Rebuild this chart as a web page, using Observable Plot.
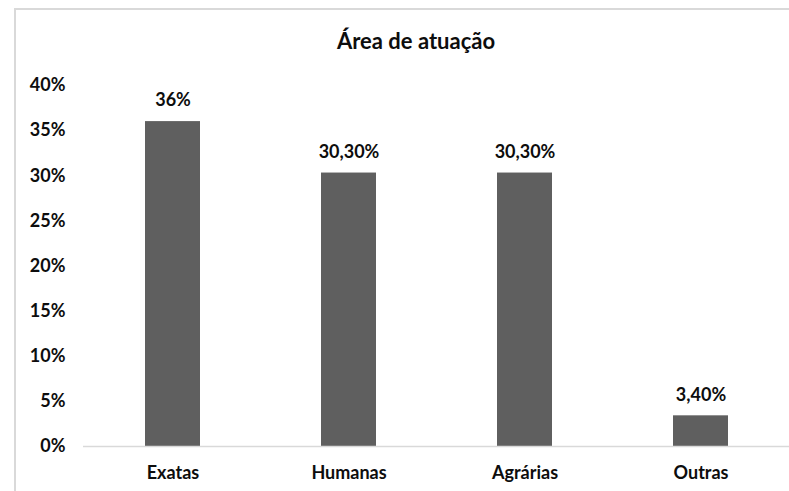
<!DOCTYPE html>
<html>
<head>
<meta charset="utf-8">
<script src="https://cdn.jsdelivr.net/npm/d3@7"></script>
<script src="https://cdn.jsdelivr.net/npm/@observablehq/plot@0.6"></script>
<style>
  html, body { margin: 0; padding: 0; background: #fff; }
  #wrap { position: relative; width: 789px; height: 491px; overflow: hidden; font-family: Lato, "Open Sans", sans-serif; }
  #frame { position: absolute; left: 14px; top: 8px; width: 800px; height: 500px; border: 2px solid #d9d9d9; box-sizing: border-box; }
  #title { position: absolute; left: 0; width: 832px; top: 28px; text-align: center; font-size: 22px; font-weight: bold; color: #0d0d0d; line-height: 26px; }
  #chart { position: absolute; left: 0; top: 0; }
</style>
</head>
<body>
<div id="wrap">
  <div id="frame"></div>
  <div id="chart"></div>
  <div id="title">Área de atuação</div>
</div>
<script>
const categories = ["Exatas", "Humanas", "Agrárias", "Outras"];
const values = [0.36, 0.303, 0.303, 0.034];
const valueLabels = ["36%", "30,30%", "30,30%", "3,40%"];
const yTicks = [0, 0.05, 0.10, 0.15, 0.20, 0.25, 0.30, 0.35, 0.40];

const data = categories.map((c, i) => ({ cat: c, value: values[i], label: valueLabels[i] }));

const chart = Plot.plot({
  width: 789,
  height: 491,
  marginLeft: 83,
  marginRight: -1,
  marginTop: 85,
  marginBottom: 45,
  style: { fontFamily: "Lato, 'Open Sans', sans-serif", fontSize: "18px", fontWeight: "bold", color: "#0d0d0d", background: "transparent", overflow: "visible" },
  x: { domain: categories, paddingInner: 0.69, paddingOuter: 0.345, label: null },
  y: { domain: [0, 0.4], label: null },
  marks: [
    Plot.axisY({ ticks: yTicks, tickFormat: d => Math.round(d * 100) + "%", tickSize: 0, tickPadding: 18, fontSize: 18, fontWeight: "bold", label: null }),
    Plot.axisX({ tickSize: 0, tickPadding: 20, fontSize: 18, fontWeight: "bold", label: null }),
    Plot.barY(data, { x: "cat", y: "value", fill: "#5f5f5f" }),
    Plot.ruleY([0], { stroke: "#d9d9d9", strokeWidth: 1.5 }),
    Plot.text(data, { x: "cat", y: "value", text: "label", dy: -21, fontSize: 18, fontWeight: "bold", fill: "#0d0d0d" })
  ]
});
document.getElementById("chart").appendChild(chart);
</script>
</body>
</html>
